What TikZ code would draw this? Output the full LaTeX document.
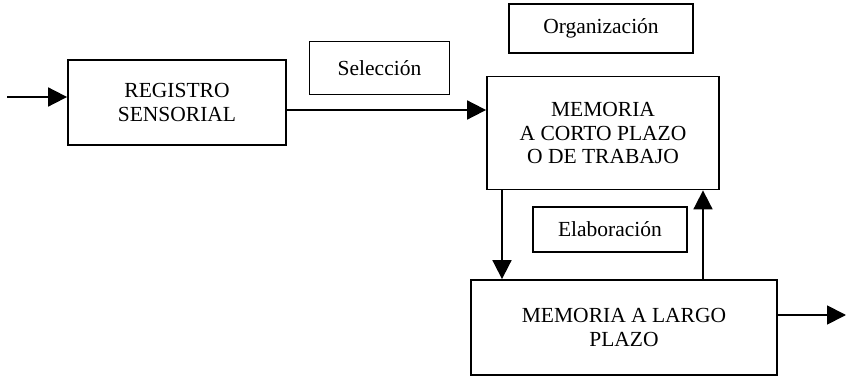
\documentclass[tikz,border=0pt]{standalone}
\usepackage{fontspec}
\setmainfont{Liberation Serif}
\usetikzlibrary{arrows.meta}
\begin{document}
\begin{tikzpicture}[x=1pt,y=-1pt,
  box/.style={draw,line width=1.8pt,rectangle,inner sep=0pt,align=center,
    font=\fontsize{21.5}{23.5}\selectfont},
  arr/.style={line width=1.8pt,-{Triangle[length=19pt,width=19pt]}}]
\useasboundingbox (0,0) rectangle (847,377);
\node[box,minimum width=218pt,minimum height=85pt] (reg) at (177,102.5) {REGISTRO\\SENSORIAL};
\node[box,minimum width=140pt,minimum height=53pt] (sel) at (379.5,68) {Selección};
\node[box,minimum width=184pt,minimum height=49pt] (org) at (601,28.5) {Organización};
\node[box,minimum width=232pt,minimum height=113pt] (mcp) at (603,133) {MEMORIA\\A CORTO PLAZO\\O DE TRABAJO};
\node[box,minimum width=154pt,minimum height=45pt] (ela) at (610,229.5) {Elaboración};
\node[box,minimum width=306pt,minimum height=95pt] (mlp) at (624,327.5) {MEMORIA A LARGO\\PLAZO};
\coordinate (in) at (7,97);
\coordinate (out) at (846,315);
\draw[arr] (in) -- (in -| reg.west);
\draw[arr] (reg.east |- 0,110) -- (mcp.west |- 0,110);
\draw[arr] (mcp.south -| 502,0) -- (mlp.north -| 502,0);
\draw[arr] (mlp.north -| 703,0) -- (mcp.south -| 703,0);
\draw[arr] (mlp.east |- 0,315) -- (out);
\end{tikzpicture}
\end{document}
